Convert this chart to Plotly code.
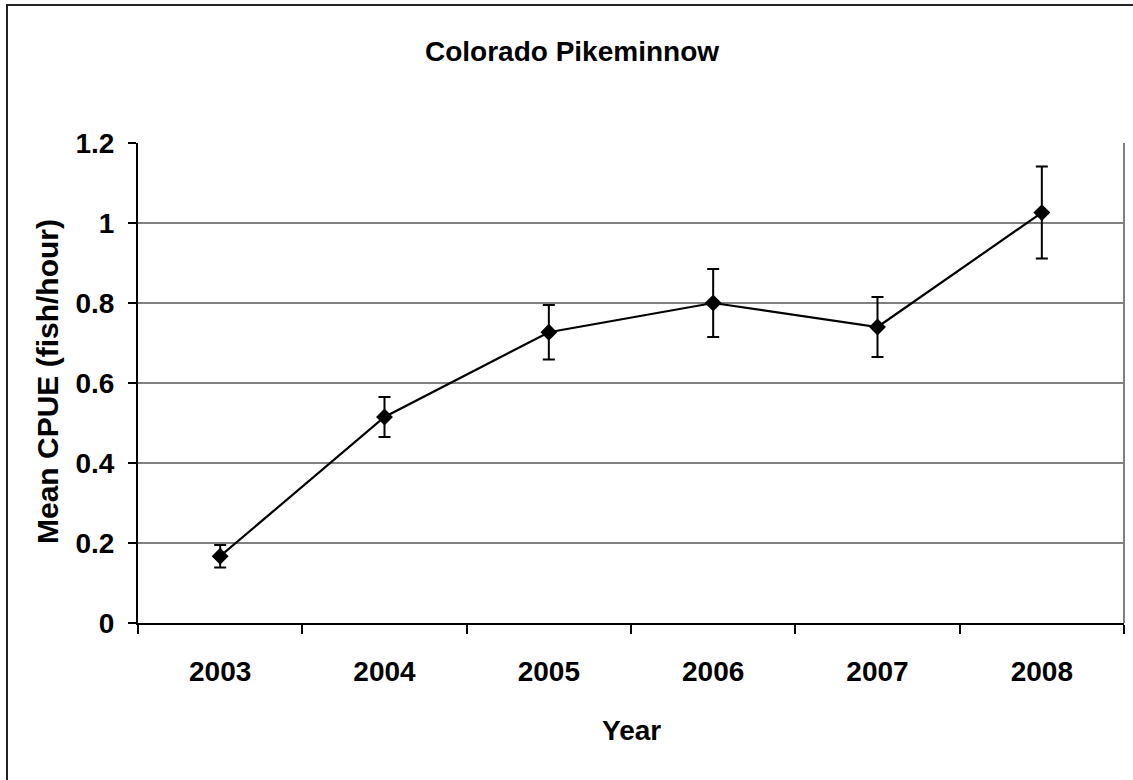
import plotly.graph_objects as go

# Mean catch per unit effort of Colorado pikeminnow, by survey year
years = ["2003", "2004", "2005", "2006", "2007", "2008"]
cpue = [0.167, 0.515, 0.727, 0.800, 0.740, 1.026]
cpue_err = [0.028, 0.050, 0.068, 0.085, 0.075, 0.115]

y_ticks = [0, 0.2, 0.4, 0.6, 0.8, 1.0, 1.2]

FONT = "Liberation Sans, Arial, sans-serif"

W, H = 1133, 780
L, R, T, B = 138, 9, 143, 157
pw, ph = W - L - R, H - T - B


def px_to_paper_x(px):
    return (px - L) / pw


def px_to_paper_y(py):
    return (H - B - py) / ph


fig = go.Figure()
fig.add_trace(go.Scatter(
    x=years,
    y=cpue,
    mode="lines+markers",
    line=dict(color="black", width=2.2),
    marker=dict(symbol="diamond", size=13, color="black"),
    error_y=dict(type="data", array=cpue_err, visible=True,
                 color="black", thickness=2, width=6),
    showlegend=False,
))

shapes = [
    # right edge of the plot area
    dict(type="line", xref="paper", yref="paper", x0=1, x1=1, y0=0, y1=1,
         line=dict(color="#808080", width=2)),
    # outer chart frame
    dict(type="rect", xref="paper", yref="paper",
         x0=px_to_paper_x(7), x1=px_to_paper_x(W + 20),
         y0=px_to_paper_y(H + 20), y1=px_to_paper_y(5),
         line=dict(color="#222222", width=2), fillcolor="rgba(0,0,0,0)", layer="below"),
]

fig.update_layout(
    width=W, height=H,
    margin=dict(l=L, r=R, t=T, b=B),
    paper_bgcolor="white",
    plot_bgcolor="white",
    shapes=shapes,
    annotations=[
        dict(text="<b>Colorado Pikeminnow</b>", xref="paper", yref="paper",
             x=px_to_paper_x(572), y=px_to_paper_y(51), showarrow=False,
             xanchor="center", yanchor="middle",
             font=dict(family=FONT, size=28, color="black")),
        dict(text="<b>Year</b>", xref="paper", yref="paper",
             x=px_to_paper_x(631), y=px_to_paper_y(730), showarrow=False,
             xanchor="center", yanchor="middle",
             font=dict(family=FONT, size=28, color="black")),
        dict(text="<b>Mean CPUE (fish/hour)</b>", xref="paper", yref="paper",
             x=px_to_paper_x(47), y=px_to_paper_y(382), showarrow=False,
             xanchor="center", yanchor="middle", textangle=-90,
             font=dict(family=FONT, size=30, color="black")),
    ],
)

fig.update_xaxes(
    type="category",
    range=[-0.5, 5.5],
    tickson="boundaries",
    ticks="outside", ticklen=9, tickwidth=1.5, tickcolor="black",
    showline=True, linecolor="black", linewidth=2,
    showgrid=False, zeroline=False,
    tickfont=dict(family=FONT, size=28, color="black", weight="bold"),
    ticklabelstandoff=22,
)

fig.update_yaxes(
    range=[0, 1.2],
    tickvals=y_ticks,
    ticktext=[f"{v:g}" for v in y_ticks],
    ticks="outside", ticklen=8, tickwidth=1.5, tickcolor="black",
    showline=True, linecolor="black", linewidth=2,
    showgrid=True, gridcolor="#808080", gridwidth=2,
    zeroline=False,
    tickfont=dict(family=FONT, size=28, color="black", weight="bold"),
    ticklabelstandoff=8,
)

fig.write_html("out.html")
